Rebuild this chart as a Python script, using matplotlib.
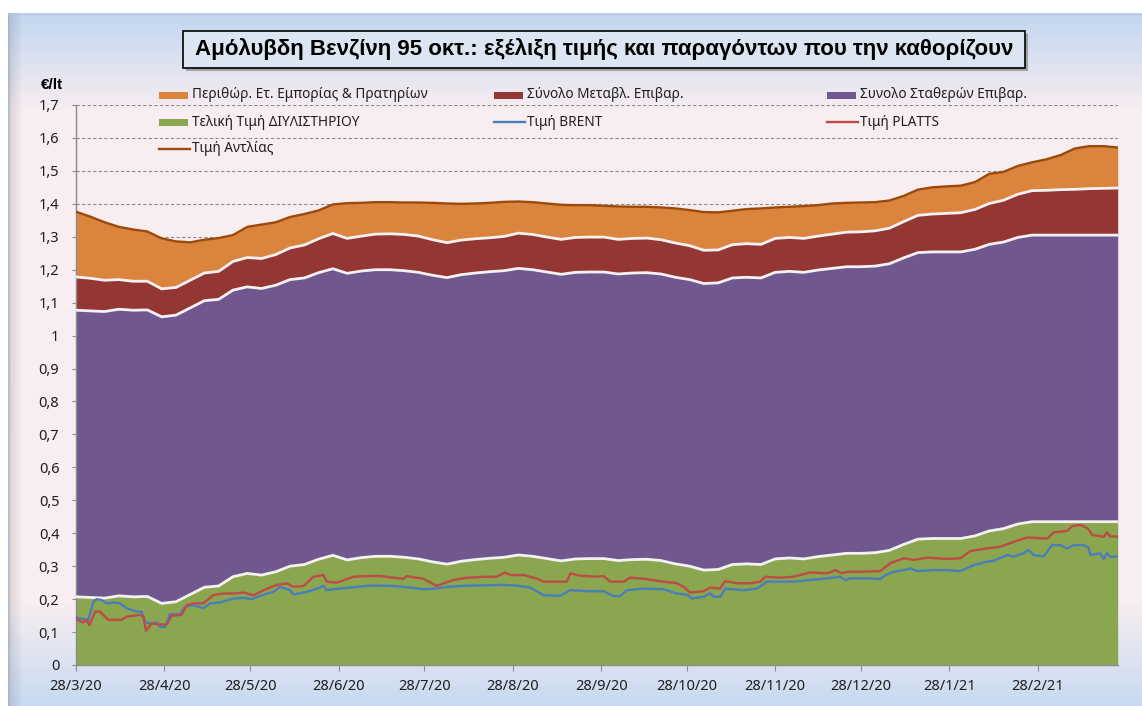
import numpy as np
import pandas as pd
import matplotlib
matplotlib.use("Agg")
import matplotlib.pyplot as plt
from matplotlib.patches import Rectangle
from matplotlib.lines import Line2D

plt.rcParams['font.family'] = ['Noto Sans', 'DejaVu Sans']
BOLD_FONT = ['Liberation Sans', 'DejaVu Sans']

# ---- data (euro per litre) ----
title = 'Αμόλυβδη Βενζίνη 95 οκτ.: εξέλιξη τιμής και παραγόντων που την καθορίζουν'
unit_label = '€/lt'

start_date = '2020-03-28'
end_date = '2021-03-28'
band_dates = pd.date_range(start_date, end_date, freq='5D')   # 74 points

refinery = [0.207, 0.205, 0.203, 0.210, 0.207, 0.208, 0.187, 0.192, 0.214, 0.236,
            0.240, 0.268, 0.278, 0.273, 0.283, 0.300, 0.305, 0.321, 0.333, 0.319,
            0.326, 0.330, 0.330, 0.327, 0.322, 0.313, 0.306, 0.315, 0.320, 0.324,
            0.327, 0.334, 0.330, 0.323, 0.316, 0.322, 0.323, 0.323, 0.317, 0.320,
            0.321, 0.317, 0.307, 0.300, 0.288, 0.290, 0.305, 0.307, 0.305, 0.322,
            0.325, 0.322, 0.329, 0.334, 0.339, 0.339, 0.341, 0.348, 0.366, 0.382,
            0.384, 0.384, 0.384, 0.392, 0.407, 0.414, 0.428, 0.435, 0.435, 0.435,
            0.435, 0.435, 0.435, 0.435]

fixed_taxes = [0.870, 0.870, 0.870, 0.870, 0.870, 0.870, 0.870, 0.870, 0.870, 0.870,
               0.870, 0.870, 0.870, 0.870, 0.870, 0.870, 0.870, 0.870, 0.870, 0.870,
               0.870, 0.870, 0.870, 0.870, 0.870, 0.870, 0.870, 0.870, 0.870, 0.870,
               0.870, 0.870, 0.870, 0.870, 0.870, 0.870, 0.870, 0.870, 0.870, 0.870,
               0.870, 0.870, 0.870, 0.870, 0.870, 0.870, 0.870, 0.870, 0.870, 0.870,
               0.870, 0.870, 0.870, 0.870, 0.870, 0.870, 0.870, 0.870, 0.870, 0.870,
               0.870, 0.870, 0.870, 0.870, 0.870, 0.870, 0.870, 0.870, 0.870, 0.870,
               0.870, 0.870, 0.870, 0.870]

variable_taxes = [0.101, 0.099, 0.095, 0.090, 0.088, 0.087, 0.085, 0.084, 0.084, 0.084,
                  0.085, 0.087, 0.089, 0.091, 0.093, 0.096, 0.100, 0.103, 0.107, 0.106,
                  0.106, 0.108, 0.109, 0.110, 0.110, 0.108, 0.106, 0.105, 0.104, 0.103,
                  0.104, 0.107, 0.107, 0.106, 0.106, 0.106, 0.106, 0.106, 0.105, 0.105,
                  0.105, 0.104, 0.104, 0.103, 0.101, 0.100, 0.101, 0.102, 0.102, 0.103,
                  0.103, 0.103, 0.103, 0.104, 0.105, 0.106, 0.107, 0.108, 0.110, 0.113,
                  0.115, 0.117, 0.119, 0.121, 0.124, 0.127, 0.131, 0.135, 0.136, 0.138,
                  0.139, 0.141, 0.142, 0.143]

margin = [0.198, 0.187, 0.176, 0.160, 0.157, 0.151, 0.153, 0.140, 0.115, 0.101,
          0.101, 0.080, 0.093, 0.103, 0.098, 0.094, 0.094, 0.086, 0.088, 0.107,
          0.101, 0.097, 0.096, 0.097, 0.102, 0.112, 0.119, 0.110, 0.107, 0.106,
          0.105, 0.096, 0.098, 0.102, 0.105, 0.098, 0.097, 0.095, 0.100, 0.096,
          0.095, 0.098, 0.105, 0.108, 0.116, 0.114, 0.103, 0.105, 0.109, 0.094,
          0.093, 0.098, 0.094, 0.093, 0.089, 0.089, 0.087, 0.084, 0.078, 0.078,
          0.081, 0.082, 0.082, 0.083, 0.090, 0.086, 0.086, 0.086, 0.094, 0.105,
          0.124, 0.129, 0.128, 0.123]

pump_price = [1.376, 1.361, 1.344, 1.330, 1.322, 1.316, 1.295, 1.286, 1.283, 1.291,
              1.296, 1.305, 1.330, 1.337, 1.344, 1.360, 1.369, 1.380, 1.398, 1.402,
              1.403, 1.405, 1.405, 1.404, 1.404, 1.403, 1.401, 1.400, 1.401, 1.403,
              1.406, 1.407, 1.405, 1.401, 1.397, 1.396, 1.396, 1.394, 1.392, 1.391,
              1.391, 1.389, 1.386, 1.381, 1.375, 1.374, 1.379, 1.384, 1.386, 1.389,
              1.391, 1.393, 1.396, 1.401, 1.403, 1.404, 1.405, 1.410, 1.424, 1.443,
              1.450, 1.453, 1.455, 1.466, 1.491, 1.497, 1.515, 1.526, 1.535, 1.548,
              1.568, 1.575, 1.575, 1.571]

# days after 28/3/20
brent_day = [0, 4.3, 6.1, 7.2, 9, 10.8, 13.1, 15.4, 17.8, 21.3,
             23, 24.2, 25.9, 28.3, 29.4, 31.2, 32.9, 36.5, 38.2, 41.1,
             44.6, 47, 50.5, 55.1, 58.7, 61.6, 64.5, 69.2, 71.5, 75,
             76.2, 80.9, 85.5, 86.7, 87.8, 90.2, 96, 103, 111.2, 117.1,
             121.7, 126.4, 129.9, 136.9, 149.8, 154.4, 159.2, 163.8, 169.6, 173.2,
             180.2, 184.8, 188.3, 190.7, 193, 198.9, 205.8, 210.6, 214, 215.8,
             219.9, 222.2, 223.4, 225.7, 227.5, 233.9, 238.6, 242.1, 246.8, 251.4,
             257.3, 263.1, 267.8, 269.6, 271.3, 277.2, 281.8, 283.6, 286.5, 290.1,
             292.4, 294.7, 300.5, 305.2, 309.9, 314.5, 319.2, 321.5, 326.3, 328.6,
             332, 333.8, 335.5, 339, 342, 344.9, 347.2, 349.6, 353.1, 354.8,
             355.4, 358.9, 360.1, 361.2, 362.4, 365]
brent = [0.144, 0.137, 0.192, 0.200, 0.197, 0.187, 0.190, 0.187, 0.172, 0.162,
         0.162, 0.131, 0.126, 0.129, 0.116, 0.115, 0.154, 0.154, 0.177, 0.182,
         0.172, 0.187, 0.190, 0.202, 0.204, 0.200, 0.210, 0.222, 0.237, 0.227,
         0.214, 0.222, 0.235, 0.241, 0.227, 0.230, 0.235, 0.241, 0.240, 0.235,
         0.230, 0.232, 0.237, 0.241, 0.243, 0.241, 0.235, 0.212, 0.210, 0.227,
         0.224, 0.224, 0.209, 0.209, 0.227, 0.232, 0.230, 0.217, 0.214, 0.202,
         0.207, 0.217, 0.207, 0.207, 0.232, 0.227, 0.232, 0.253, 0.253, 0.253,
         0.258, 0.263, 0.268, 0.258, 0.263, 0.263, 0.261, 0.273, 0.283, 0.288,
         0.293, 0.285, 0.288, 0.288, 0.285, 0.303, 0.314, 0.316, 0.334, 0.329,
         0.339, 0.349, 0.334, 0.329, 0.364, 0.364, 0.354, 0.364, 0.364, 0.356,
         0.334, 0.339, 0.322, 0.339, 0.329, 0.329]

platts_day = [0, 2.5, 3.7, 4.7, 6.7, 8.4, 11.3, 16.0, 17.8, 22.4,
              23.6, 24.5, 26.5, 29.4, 31.8, 33.5, 37.0, 38.8, 41.1, 44.6,
              48.1, 51.6, 55.1, 58.7, 62.2, 65.7, 70.3, 73.8, 76.2, 79.7,
              83.2, 86.7, 87.8, 91.4, 97.2, 101.9, 106.6, 111.2, 114.7, 115.9,
              117.1, 121.7, 126.4, 128.8, 132.3, 136.9, 144.0, 147.5, 150.3, 152.2,
              156.9, 161.5, 163.8, 172.0, 173.2, 176.7, 182.5, 184.8, 187.2, 191.9,
              194.2, 198.9, 205.8, 210.6, 212.9, 215.2, 219.9, 222.2, 225.7, 227.5,
              231.6, 236.3, 239.8, 241.5, 246.8, 251.4, 257.3, 263.1, 266.0, 268.4,
              270.1, 274.8, 281.8, 285.3, 290.1, 293.5, 298.2, 305.2, 309.9, 313.4,
              319.2, 323.9, 328.6, 333.3, 340.3, 342.7, 347.3, 349.1, 352.0, 354.4,
              356.1, 360.1, 361.3, 362.4, 365]
platts = [0.140, 0.129, 0.137, 0.121, 0.162, 0.162, 0.137, 0.137, 0.147, 0.152,
          0.147, 0.104, 0.126, 0.123, 0.123, 0.150, 0.152, 0.182, 0.187, 0.187,
          0.212, 0.217, 0.217, 0.220, 0.212, 0.227, 0.243, 0.248, 0.237, 0.240,
          0.268, 0.273, 0.253, 0.250, 0.268, 0.270, 0.270, 0.265, 0.262, 0.270,
          0.268, 0.262, 0.240, 0.248, 0.258, 0.265, 0.268, 0.268, 0.281, 0.273,
          0.273, 0.262, 0.253, 0.253, 0.278, 0.271, 0.268, 0.270, 0.253, 0.253,
          0.265, 0.262, 0.253, 0.248, 0.237, 0.220, 0.224, 0.235, 0.232, 0.255,
          0.248, 0.248, 0.253, 0.268, 0.265, 0.268, 0.281, 0.278, 0.288, 0.278,
          0.283, 0.283, 0.285, 0.309, 0.324, 0.319, 0.326, 0.322, 0.324, 0.346,
          0.354, 0.359, 0.374, 0.387, 0.384, 0.403, 0.407, 0.422, 0.425, 0.415,
          0.395, 0.389, 0.403, 0.390, 0.390]

series_names = ['Περιθώρ. Ετ. Εμπορίας & Πρατηρίων', 'Σύνολο Μεταβλ. Επιβαρ.',
                'Συνολο Σταθερών Επιβαρ.', 'Τελική Τιμή ΔΙΥΛΙΣΤΗΡΙΟΥ',
                'Τιμή BRENT', 'Τιμή PLATTS', 'Τιμή Αντλίας']

x_tick_dates = ['2020-03-28', '2020-04-28', '2020-05-28', '2020-06-28', '2020-07-28',
                '2020-08-28', '2020-09-28', '2020-10-28', '2020-11-28', '2020-12-28',
                '2021-01-28', '2021-02-28']
x_tick_labels = ['28/3/20', '28/4/20', '28/5/20', '28/6/20', '28/7/20', '28/8/20',
                 '28/9/20', '28/10/20', '28/11/20', '28/12/20', '28/1/21', '28/2/21']
y_ticks = [0, 0.1, 0.2, 0.3, 0.4, 0.5, 0.6, 0.7, 0.8, 0.9, 1.0,
           1.1, 1.2, 1.3, 1.4, 1.5, 1.6, 1.7]
y_tick_labels = ['0', '0,1', '0,2', '0,3', '0,4', '0,5', '0,6', '0,7', '0,8', '0,9', '1',
                 '1,1', '1,2', '1,3', '1,4', '1,5', '1,6', '1,7']

ORANGE = '#DB843D'
DARKRED = '#943634'
PURPLE = '#70588F'
GREEN = '#8AA64F'
BLUE = '#4A7EBB'
RED = '#BE4B48'
BROWN = '#9C4A0B'
EDGE = '#F3F1F1'

W, H = 1142, 706
fig = plt.figure(figsize=(W / 100, H / 100), dpi=100)

# chart area background (vertical gradient, blue - pink - blue)
bg = fig.add_axes([0, 0, 1, 1], zorder=-10)
bg.set_xlim(0, W)
bg.set_ylim(H, 0)
bg.axis('off')
yy = np.arange(H)
stops = [13, 24, 110, 600, 706]
cols = np.array([[196, 214, 239], [200, 217, 240], [248, 237, 240],
                 [249, 238, 241], [199, 217, 240]]) / 255.0
grad = np.stack([np.interp(yy, stops, cols[:, i]) for i in range(3)], axis=-1)
img = np.repeat(grad[:, None, :], W, axis=1)
xx = np.arange(W)
shade = np.interp(xx, [8, 10, 22], [0.80, 0.90, 1.0])
img = img * shade[None, :, None]
img[:13, :] = 1.0
img[:, :8] = 1.0
bg.imshow(img, extent=(0, W, H, 0), aspect='auto', interpolation='bilinear')
bg.plot([8, W], [13.5, 13.5], color='#B8C8DC', lw=1)
bg.plot([8.5, 8.5], [13, H], color='#AFC0D6', lw=1)

# plot area
ax = fig.add_axes([76 / W, 1 - 665 / H, (1117.7 - 76) / W, (665 - 105) / H])
ax.patch.set_alpha(0)

base = pd.Timestamp(start_date)
green_top = np.array(refinery)
purple_top = green_top + np.array(fixed_taxes)
red_top = purple_top + np.array(variable_taxes)
orange_top = red_top + np.array(margin)

ax.fill_between(band_dates, 0, green_top, color=GREEN, lw=0, zorder=2)
ax.fill_between(band_dates, green_top, purple_top, color=PURPLE, lw=0, zorder=2)
ax.fill_between(band_dates, purple_top, red_top, color=DARKRED, lw=0, zorder=2)
ax.fill_between(band_dates, red_top, orange_top, color=ORANGE, lw=0, zorder=2)
for top in (green_top, purple_top, red_top):
    ax.plot(band_dates, top, color=EDGE, lw=2.0, zorder=3)

brent_dates = base + pd.to_timedelta(brent_day, unit='D')
platts_dates = base + pd.to_timedelta(platts_day, unit='D')
ax.plot(brent_dates, brent, color=BLUE, lw=1.7, zorder=4)
ax.plot(platts_dates, platts, color=RED, lw=1.7, zorder=4)
ax.plot(band_dates, pump_price, color=BROWN, lw=1.7, zorder=5)

ax.set_xlim(base, pd.Timestamp(end_date))
ax.set_ylim(0, 1.7)
ax.set_yticks(y_ticks)
ax.set_yticklabels(y_tick_labels)
ax.set_xticks(pd.to_datetime(x_tick_dates))
ax.set_xticklabels(x_tick_labels)
ax.yaxis.grid(True, color='#8C8C8C', lw=0.8, ls=(0, (3, 2)), zorder=0)
ax.set_axisbelow(True)
for s in ('top', 'right'):
    ax.spines[s].set_visible(False)
for s in ('left', 'bottom'):
    ax.spines[s].set_color('#8C8C8C')
    ax.spines[s].set_linewidth(1.0)
ax.tick_params(axis='x', direction='out', length=4, color='#8C8C8C', pad=6,
               labelsize=10.5, labelcolor='#1F1F1F')
ax.tick_params(axis='y', direction='out', length=3, color='#8C8C8C', pad=9,
               labelsize=10.5, labelcolor='#1F1F1F')

# overlay in pixel coordinates: title box, unit label, legend
ov = fig.add_axes([0, 0, 1, 1], zorder=10)
ov.set_xlim(0, W)
ov.set_ylim(H, 0)
ov.axis('off')
ov.patch.set_alpha(0)

ov.add_patch(Rectangle((186, 34), 842, 37, fc='#6F6F6F', ec='none', alpha=0.55))
ov.add_patch(Rectangle((183, 31), 842, 37, fc='#DCE6F2', ec='black', lw=1.2))
ov.text(604, 49.5, title, ha='center', va='center', fontsize=16,
        fontweight='bold', family=BOLD_FONT, color='black')
ov.text(41, 85, unit_label, ha='left', va='center', fontsize=11,
        fontweight='bold', family=BOLD_FONT, color='black')

legend_kind = ['patch', 'patch', 'patch', 'patch', 'line', 'line', 'line']
legend_color = [ORANGE, DARKRED, PURPLE, GREEN, BLUE, RED, BROWN]
legend_col_x = [159, 494, 827]
legend_row_y = [95, 122, 149]
for i, name in enumerate(series_names):
    lx = legend_col_x[i % 3]
    ly = legend_row_y[i // 3]
    if legend_kind[i] == 'patch':
        ov.add_patch(Rectangle((lx, ly - 3.5), 29, 7, fc=legend_color[i], ec='none'))
    else:
        ov.add_line(Line2D([lx, lx + 31], [ly, ly], color=legend_color[i], lw=1.7))
    ov.text(lx + 33, ly, name, ha='left', va='center', fontsize=9.8, color='#1F1F1F')

fig.savefig('out.png', dpi=100)
